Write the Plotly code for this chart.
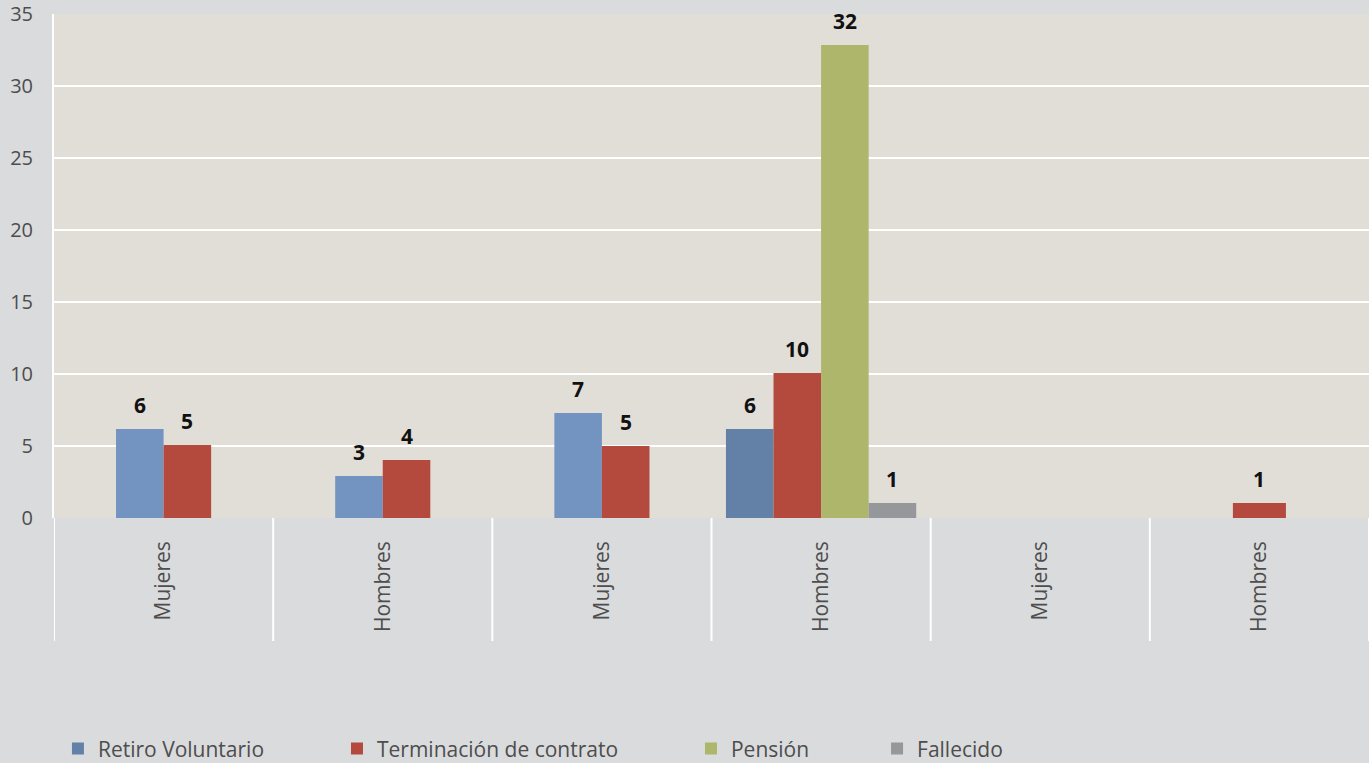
import plotly.graph_objects as go

# ---- data ----
categories = ["Mujeres", "Hombres", "Mujeres", "Hombres", "Mujeres", "Hombres"]
x_keys = ["M1", "H1", "M2", "H2", "M3", "H3"]

series_names = ["Retiro Voluntario", "Terminación de contrato", "Pensión", "Fallecido"]
retiro = [6.18, 2.92, 7.29, 6.18, None, None]
terminacion = [5.07, 4.03, 5.0, 10.07, None, 1.04]
pension = [None, None, None, 32.85, None, None]
fallecido = [None, None, None, 1.04, None, None]

retiro_labels = ["6", "3", "7", "6", "", ""]
terminacion_labels = ["5", "4", "5", "10", "", "1"]
pension_labels = ["", "", "", "32", "", ""]
fallecido_labels = ["", "", "", "1", "", ""]

y_ticks = [0, 5, 10, 15, 20, 25, 30, 35]

# ---- styles ----
colors = ["#6381a7", "#b34a3d", "#adb66b", "#96979b"]
retiro_light = "#7394c0"
retiro_light_idx = {0, 1, 2}
paper_bg = "#dadbdd"
plot_bg = "#e1ddd7"
text_col = "#4d4d4d"
font_family = "Open Sans"
legend_x = [0.003, 0.2152, 0.4844, 0.6259]

all_series = [retiro, terminacion, pension, fallecido]
all_labels = [retiro_labels, terminacion_labels, pension_labels, fallecido_labels]

# bar placement inside each category (present series only, centered)
n_cat = len(categories)
offsets = [[None] * n_cat for _ in all_series]
widths = [[None] * n_cat for _ in all_series]
for i in range(n_cat):
    present = [s for s in range(len(all_series)) if all_series[s][i] is not None]
    n = len(present)
    w = 0.217 if n > 1 else 0.242
    start = -n * w / 2
    for k, s in enumerate(present):
        offsets[s][i] = start + k * w
        widths[s][i] = w

fig = go.Figure()
annotations = []
legend_ids = ["legend", "legend2", "legend3", "legend4"]
for s, (name, vals, labs) in enumerate(zip(series_names, all_series, all_labels)):
    xs, ys, offs, ws, cols = [], [], [], [], []
    lx, ly, lo, lw, lc = [], [], [], [], []
    for i in range(n_cat):
        if vals[i] is None:
            continue
        if s == 0 and i in retiro_light_idx:
            lx.append(x_keys[i]); ly.append(vals[i]); lo.append(offsets[s][i])
            lw.append(widths[s][i]); lc.append(retiro_light)
        else:
            xs.append(x_keys[i]); ys.append(vals[i]); offs.append(offsets[s][i])
            ws.append(widths[s][i]); cols.append(colors[s])
        if labs[i]:
            annotations.append(dict(
                x=i + offsets[s][i] + widths[s][i] / 2, y=vals[i], xref="x", yref="y",
                text="<b>%s</b>" % labs[i], showarrow=False, yanchor="bottom", yshift=8,
                font=dict(family=font_family, size=21, color="#111111")))
    fig.add_trace(go.Bar(name=name, x=xs, y=ys, offset=offs, width=ws,
                         marker=dict(color=cols, line=dict(width=0)),
                         legendgroup=name, legend=legend_ids[s]))
    if lx:
        fig.add_trace(go.Bar(name=name, x=lx, y=ly, offset=lo, width=lw,
                             marker=dict(color=lc, line=dict(width=0)),
                             legendgroup=name, showlegend=False, legend=legend_ids[s]))

# category divider lines below the axis
shapes = []
for i in range(n_cat + 1):
    shapes.append(dict(type="line", xref="x", yref="paper", x0=i - 0.5, x1=i - 0.5,
                       y0=0, y1=-123 / 504, line=dict(color="white", width=2)))

legend_common = dict(orientation="h", xanchor="left", y=-0.458, yanchor="middle",
                     font=dict(size=21, color=text_col), bgcolor="rgba(0,0,0,0)")

fig.update_layout(
    width=1369, height=763,
    barmode="overlay",
    paper_bgcolor=paper_bg, plot_bgcolor=plot_bg,
    margin=dict(l=54, r=0, t=14, b=245, autoexpand=False),
    font=dict(family=font_family, size=20, color=text_col),
    xaxis=dict(type="category", categoryorder="array", categoryarray=x_keys,
               tickmode="array", tickvals=x_keys, ticktext=categories,
               tickangle=-90, ticks="", showgrid=False, zeroline=False,
               showline=False, range=[-0.5, n_cat - 0.5], automargin=False,
               tickfont=dict(size=21, color=text_col), ticklabelstandoff=18),
    yaxis=dict(range=[0, 35], tickvals=y_ticks, showgrid=True, gridcolor="white",
               gridwidth=2, zeroline=False, showline=True, linecolor="white", linewidth=2,
               ticks="", automargin=False,
               tickfont=dict(size=20, color=text_col), ticklabelstandoff=15),
    showlegend=True,
    legend=dict(x=legend_x[0], **legend_common),
    legend2=dict(x=legend_x[1], **legend_common),
    legend3=dict(x=legend_x[2], **legend_common),
    legend4=dict(x=legend_x[3], **legend_common),
    annotations=annotations,
    shapes=shapes,
)

fig.write_html("out.html", config={"displayModeBar": False},
               post_script="document.body.style.margin='0';window.dispatchEvent(new Event('resize'));")
